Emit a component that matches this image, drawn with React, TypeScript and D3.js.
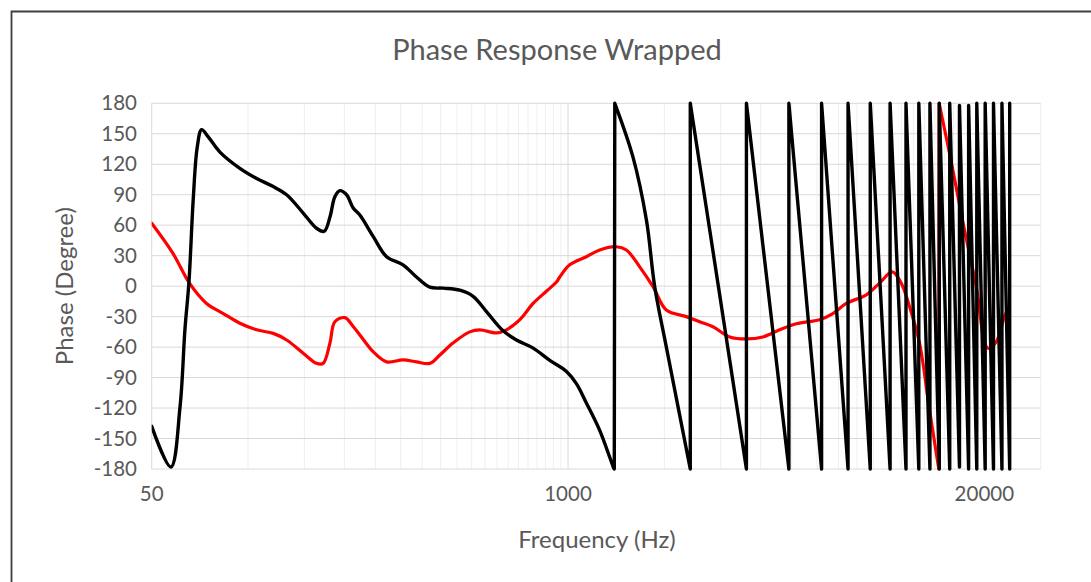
import React from "react";
import * as d3 from "d3";

// Phase response (degrees, wrapped to ±180) against frequency (Hz)
const chartTitle = "Phase Response Wrapped";
const xAxisTitle = "Frequency (Hz)";
const yAxisTitle = "Phase (Degree)";

const freqDomain: [number, number] = [50, 30000];
const phaseDomain: [number, number] = [-180, 180];
const xTickLabels = [50, 1000, 20000];
const yTickLabels = [180, 150, 120, 90, 60, 30, 0, -30, -60, -90, -120, -150, -180];

// black trace: [frequency, phase]
const blackPhase: [number, number][] = [
  [50, -138], [57.4, -178], [61.3, -119], [63.5, -43], [65.4, 5], [67.4, 85],
  [69.4, 137], [71.6, 154], [75.1, 147], [81.7, 132], [94.3, 116], [106.4, 106],
  [119.9, 98], [132, 90], [148.7, 72], [163.7, 57], [173, 54], [180.3, 68],
  [186.8, 88], [193.6, 94], [203.2, 90], [213.1, 77], [223.6, 70], [246, 49],
  [271, 29], [305, 21], [336, 9], [370, -1], [407, -2], [459, -4], [505, -10],
  [556, -25], [627, -44], [690, -53], [778, -61], [877, -73], [989, -84],
  [1062, -96], [1141, -115], [1256, -142], [1385, -178], [1395, -180],
  [1400, 180], [1596, 127], [1758, 65], [1865, 0], [2029, -60], [2410, -180],
  [2410, 180], [3610, -180],
  [3610, 180], [4900, -180],
  [4900, 180], [6200, -180],
  [6200, 180], [7500, -180],
  [7500, 180], [8800, -180],
  [8800, 180], [10150, -180],
  [10150, 180], [11380, -180],
  [11380, 180], [12480, -180],
  [12480, 180], [13520, -180],
  [13520, 180], [14460, -180],
  [14460, 180], [15590, -180],
  [15590, 180], [16720, -178],
  [16720, 178], [17860, -180],
  [17860, 178], [18940, -180],
  [18940, 180], [20120, -180],
  [20120, 180], [21360, -180],
  [21360, 180], [22700, -180],
  [22700, 180], [24000, -180],
  [24000, 180],
];

// red trace: [frequency, phase]
const redPhase: [number, number][] = [
  [50, 62], [58.2, 32.5], [65.6, 3], [74.2, -17], [83.7, -27], [94.3, -36.5],
  [106.4, -43], [119.9, -46.5], [132, -53], [148.7, -66], [163.7, -76],
  [171.7, -76], [180.3, -56], [186.8, -35], [200.9, -31], [213.4, -40],
  [223.6, -48], [246, -64.5], [271, -74.5], [305, -72.5], [336, -74.5],
  [370, -76], [397, -68], [437, -56], [493, -45], [530, -43], [598, -46],
  [642, -43], [707, -33], [778, -17], [856, -5], [920, 4], [942, 9],
  [1012, 21], [1141, 29], [1256, 35.6], [1416, 38.8], [1522, 35.6],
  [1675, 19], [1843, -0.5], [2029, -23.5], [2343, -30], [2578, -35],
  [2837, -40], [3199, -50], [3607, -52], [4064, -50], [4583, -43],
  [5169, -37], [6110, -33], [6725, -27], [7405, -17], [8551, -8.5],
  [9408, 3], [10310, 14], [10996, 3], [11672, -20], [12544, -56],
  [13481, -122], [14413, -180],
  [14450, 180], [15756, 122.5], [17125, 63.5], [18859, 0], [20498, -61],
  [21772, -55], [23112, -30], [23955, -20],
];

const W = 1091;
const H = 582;
const plot = { left: 151.7, right: 1040.7, top: 103.3, bottom: 469 };

const x = d3.scaleLog().domain(freqDomain).range([plot.left, plot.right]);
const y = d3.scaleLinear().domain(phaseDomain).range([plot.bottom, plot.top]);

// minor gridlines at each multiple inside the 50–1000 and 1000–20000 spans
const minorGrid = [
  ...d3.range(100, 1000, 50),
  ...d3.range(2000, 20000, 1000),
].filter((f) => !xTickLabels.includes(f));

const smoothLine = d3
  .line<[number, number]>()
  .x((d) => x(d[0]))
  .y((d) => y(d[1]))
  .curve(d3.curveCatmullRom.alpha(0.5));

const straightLine = d3
  .line<[number, number]>()
  .x((d) => x(d[0]))
  .y((d) => y(d[1]));

// Smooth each run between wrap points (-180 -> +180), joined by straight jumps
function wrappedPath(data: [number, number][]): string {
  const runs: [number, number][][] = [];
  let cur: [number, number][] = [];
  data.forEach((p, i) => {
    if (i > 0 && data[i - 1][1] <= -170 && p[1] >= 170) {
      runs.push(cur);
      cur = [];
    }
    cur.push(p);
  });
  runs.push(cur);
  return runs
    .map((r, i) => {
      const gen = r.length > 2 ? smoothLine : straightLine;
      const s = (gen(r) || "").replace(/Z$/, "");
      return i === 0 ? s : "L" + s.slice(1);
    })
    .join("");
}

const textColor = "#595959";
const font = "Lato, 'Open Sans', sans-serif";

export default function App() {
  return (
    <svg
      width={W}
      height={H}
      style={{ position: "absolute", left: 0, top: 0, background: "#fff" }}
    >
      <rect x={0} y={0} width={W} height={H} fill="#fff" />
      <defs>
        <clipPath id="plot-clip">
          <rect
            x={plot.left}
            y={plot.top - 3}
            width={plot.right - plot.left}
            height={plot.bottom - plot.top + 6}
          />
        </clipPath>
      </defs>

      {/* chart frame */}
      <path
        d={`M11.5,${H + 2} V11.5 H${W + 2}`}
        fill="none"
        stroke="#3f3f3f"
        strokeWidth={1.8}
      />

      {/* minor vertical gridlines */}
      {minorGrid.map((f) => (
        <line
          key={"m" + f}
          x1={x(f)}
          x2={x(f)}
          y1={plot.top}
          y2={plot.bottom}
          stroke="#efefef"
          strokeWidth={1}
        />
      ))}
      {/* major vertical gridlines */}
      {xTickLabels.map((f) => (
        <line
          key={"M" + f}
          x1={x(f)}
          x2={x(f)}
          y1={plot.top}
          y2={plot.bottom}
          stroke="#d9d9d9"
          strokeWidth={1}
        />
      ))}
      <line
        x1={plot.right}
        x2={plot.right}
        y1={plot.top}
        y2={plot.bottom}
        stroke="#efefef"
        strokeWidth={1}
      />
      {/* horizontal gridlines */}
      {yTickLabels.map((v) => (
        <line
          key={"h" + v}
          x1={plot.left}
          x2={plot.right}
          y1={y(v)}
          y2={y(v)}
          stroke="#d9d9d9"
          strokeWidth={1}
        />
      ))}

      <g clipPath="url(#plot-clip)" fill="none" strokeLinejoin="round" strokeLinecap="round">
        <path d={wrappedPath(redPhase)} stroke="#ff0000" strokeWidth={3.2} />
        <path d={wrappedPath(blackPhase)} stroke="#000000" strokeWidth={3.4} />
      </g>

      {/* y tick labels */}
      {yTickLabels.map((v) => (
        <text
          key={"yt" + v}
          x={137}
          y={y(v)}
          dy="0.35em"
          textAnchor="end"
          fill={textColor}
          fontFamily={font}
          fontSize={20.5}
        >
          {v}
        </text>
      ))}
      {/* x tick labels */}
      {xTickLabels.map((f) => (
        <text
          key={"xt" + f}
          x={x(f)}
          y={494}
          dy="0.35em"
          textAnchor="middle"
          fill={textColor}
          fontFamily={font}
          fontSize={20.5}
        >
          {f}
        </text>
      ))}

      <text
        x={557}
        y={50}
        dy="0.35em"
        textAnchor="middle"
        fill={textColor}
        fontFamily={font}
        fontSize={29}
      >
        {chartTitle}
      </text>
      <text
        x={597}
        y={540}
        dy="0.35em"
        textAnchor="middle"
        fill={textColor}
        fontFamily={font}
        fontSize={24}
      >
        {xAxisTitle}
      </text>
      <text
        transform={`translate(65,${(plot.top + plot.bottom) / 2}) rotate(-90)`}
        dy="0.35em"
        textAnchor="middle"
        fill={textColor}
        fontFamily={font}
        fontSize={24}
      >
        {yAxisTitle}
      </text>
    </svg>
  );
}
